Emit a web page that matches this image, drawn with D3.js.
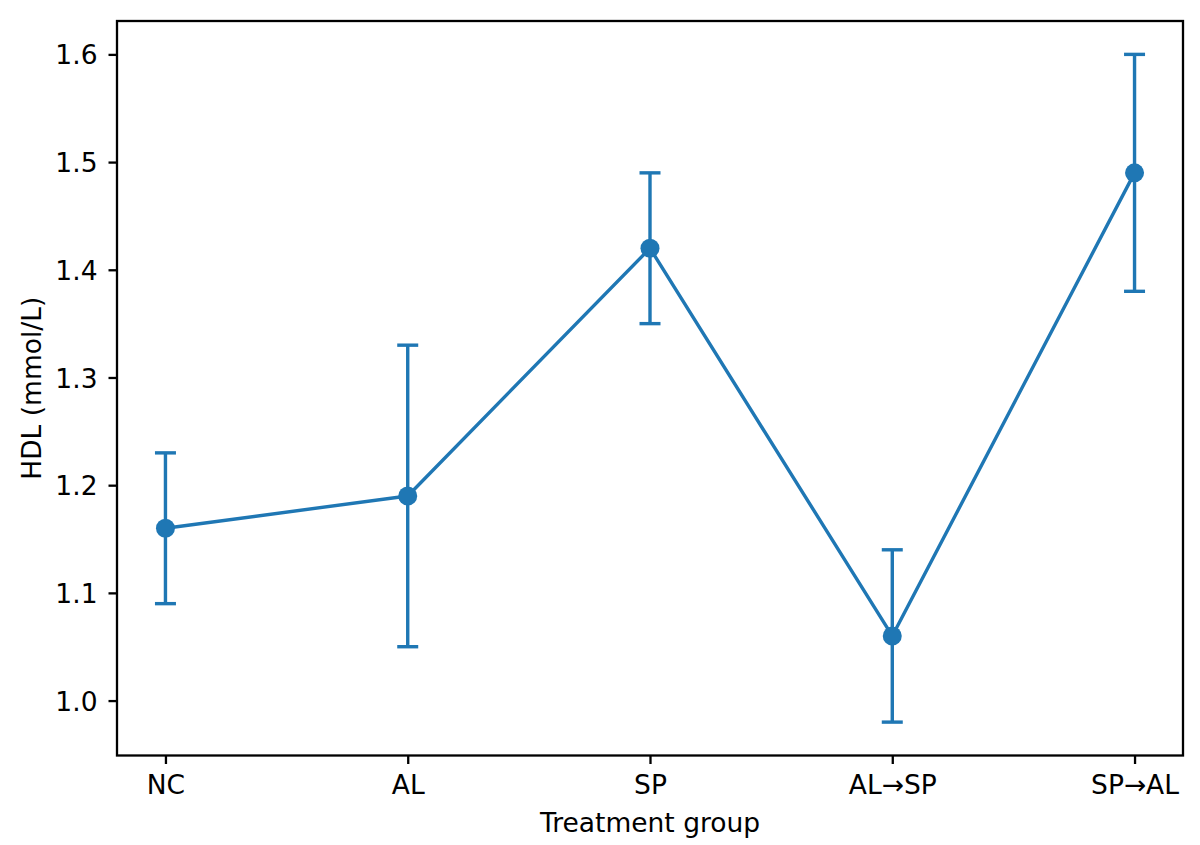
<!DOCTYPE html>
<html>
<head>
<meta charset="utf-8">
<script src="https://cdn.jsdelivr.net/npm/d3@7"></script>
<style>
  html, body { margin: 0; padding: 0; background: #fff; }
  svg { display: block; }
</style>
</head>
<body>
<svg id="chart" width="1200" height="845"></svg>
<script>
// ---- data ----
const categories = ["NC", "AL", "SP", "AL\u2192SP", "SP\u2192AL"];
const means      = [1.16, 1.19, 1.42, 1.06, 1.49];
const lowers     = [1.09, 1.05, 1.35, 0.98, 1.38];
const uppers     = [1.23, 1.33, 1.49, 1.14, 1.60];
const yTicks     = [1.0, 1.1, 1.2, 1.3, 1.4, 1.5, 1.6];
const xLabel     = "Treatment group";
const yLabel     = "HDL (mmol/L)";

// ---- layout ----
const W = 1200, H = 845;
const plot = { left: 117, right: 1183, top: 21, bottom: 755.5 };
const color = "#1f77b4";
const font = "'DejaVu Sans', sans-serif";
const fs = 26.5;

const svg = d3.select("#chart");

const idx = categories.map((_, i) => i);
const x = d3.scaleLinear().domain([-0.2, categories.length - 1 + 0.2]).range([plot.left, plot.right]);
const yMin = d3.min(lowers), yMax = d3.max(uppers);
const pad = (yMax - yMin) * 0.05;
const y = d3.scaleLinear().domain([yMin - pad, yMax + pad]).range([plot.bottom, plot.top]);

// axes
const xAxis = d3.axisBottom(x).tickValues(idx).tickFormat(i => categories[i]).tickSize(8.5).tickPadding(10);
const yAxis = d3.axisLeft(y).tickValues(yTicks).tickFormat(d3.format(".1f")).tickSize(8.5).tickPadding(11);

const gx = svg.append("g").attr("transform", `translate(0,${plot.bottom})`).call(xAxis);
const gy = svg.append("g").attr("transform", `translate(${plot.left},0)`).call(yAxis);
[gx, gy].forEach(g => {
  g.select(".domain").remove();
  g.selectAll(".tick line").attr("stroke", "#000").attr("stroke-width", 2.3);
  g.selectAll(".tick text").attr("fill", "#000").style("font-family", font).style("font-size", fs + "px");
});
gy.selectAll(".tick text").attr("dy", "0.36em");
gx.selectAll(".tick text").attr("dy", "0.74em");

// frame
svg.append("rect")
  .attr("x", plot.left).attr("y", plot.top)
  .attr("width", plot.right - plot.left).attr("height", plot.bottom - plot.top)
  .attr("fill", "none").attr("stroke", "#000").attr("stroke-width", 2.3);

// data
const data = idx.map(i => ({ i, m: means[i], lo: lowers[i], hi: uppers[i] }));

// connecting line
svg.append("path")
  .datum(data)
  .attr("fill", "none")
  .attr("stroke", color)
  .attr("stroke-width", 3.4)
  .attr("stroke-linejoin", "round")
  .attr("d", d3.line().x(d => x(d.i)).y(d => y(d.m)));

// error bars
const eb = svg.append("g").selectAll("g").data(data).join("g");
eb.append("line")
  .attr("x1", d => x(d.i)).attr("x2", d => x(d.i))
  .attr("y1", d => y(d.lo)).attr("y2", d => y(d.hi))
  .attr("stroke", color).attr("stroke-width", 3.4);
const capHalf = 10.5;
["lo", "hi"].forEach(k => {
  eb.append("line")
    .attr("x1", d => x(d.i) - capHalf).attr("x2", d => x(d.i) + capHalf)
    .attr("y1", d => y(d[k])).attr("y2", d => y(d[k]))
    .attr("stroke", color).attr("stroke-width", 3.4);
});

// markers
svg.append("g").selectAll("circle").data(data).join("circle")
  .attr("cx", d => x(d.i)).attr("cy", d => y(d.m)).attr("r", 9.5)
  .attr("fill", color);

// axis labels
svg.append("text")
  .attr("x", (plot.left + plot.right) / 2).attr("y", 832)
  .attr("text-anchor", "middle")
  .style("font-family", font).style("font-size", fs + "px")
  .text(xLabel);

svg.append("text")
  .attr("transform", `translate(41,${(plot.top + plot.bottom) / 2}) rotate(-90)`)
  .attr("text-anchor", "middle")
  .style("font-family", font).style("font-size", fs + "px")
  .text(yLabel);
</script>
</body>
</html>
